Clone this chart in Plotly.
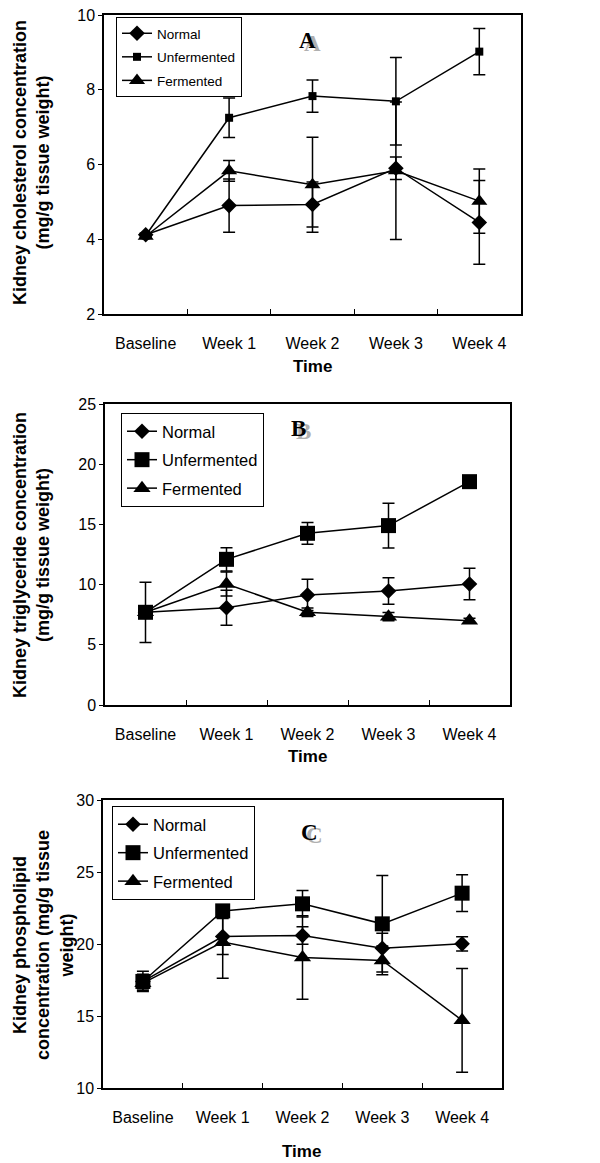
import plotly.graph_objects as go

# categories on the x axis
times = ["Baseline", "Week 1", "Week 2", "Week 3", "Week 4"]

# panel A - kidney cholesterol (mg/g tissue weight)
chol_normal = [4.12, 4.90, 4.93, 5.90, 4.45]
chol_normal_err = [0.05, 0.71, 0.60, 0.30, 1.12]
chol_unferm = [4.10, 7.25, 7.83, 7.69, 9.02]
chol_unferm_err = [0.05, 0.53, 0.43, 1.17, 0.62]
chol_ferm = [4.08, 5.83, 5.46, 5.83, 5.02]
chol_ferm_err = [0.05, 0.28, 1.27, 1.84, 0.86]

# panel B - kidney triglyceride
tg_normal = [7.70, 8.08, 9.14, 9.47, 10.05]
tg_normal_err = [2.50, 1.46, 1.30, 1.10, 1.30]
tg_unferm = [7.70, 12.10, 14.26, 14.90, 18.55]
tg_unferm_err = [0.50, 0.97, 0.90, 1.85, 0.30]
tg_ferm = [7.70, 10.05, 7.70, 7.34, 7.00]
tg_ferm_err = [0.50, 1.00, 0.35, 0.35, 0.20]

# panel C - kidney phospholipid
pl_normal = [17.40, 20.52, 20.59, 19.71, 20.01]
pl_normal_err = [0.70, 1.25, 0.60, 1.04, 0.50]
pl_unferm = [17.40, 22.30, 22.79, 21.40, 23.53]
pl_unferm_err = [0.50, 0.30, 0.92, 3.35, 1.28]
pl_ferm = [17.28, 20.13, 19.06, 18.86, 14.70]
pl_ferm_err = [0.50, 2.50, 2.90, 1.00, 3.60]

W, H = 600, 1163
OFF = 8  # the page body margin shifts the figure by this much
FONT = "Liberation Sans, Arial, sans-serif"


def px(x):
    return (x - OFF) / W


def py(y):
    return 1 - (y - OFF) / H


panels = [
    dict(n="", data=[(chol_normal, chol_normal_err), (chol_unferm, chol_unferm_err), (chol_ferm, chol_ferm_err)],
         dx=(104, 521), dy=(15, 314), yr=[2, 10], dt=2, sizes=(12, 8, 14), lfont=13.5, legpos=(116, 17),
         gap=3, letter="A", lpos=(307, 40), ytitle="Kidney cholesterol concentration<br>(mg/g tissue weight)",
         ytpos=(31, 163), tpos=(312, 367)),
    dict(n="2", data=[(tg_normal, tg_normal_err), (tg_unferm, tg_unferm_err), (tg_ferm, tg_ferm_err)],
         dx=(105, 510), dy=(404, 705), yr=[0, 25], dt=5, sizes=(12, 15, 15), lfont=16.5, legpos=(121, 413),
         gap=4, letter="B", lpos=(298, 428), ytitle="Kidney triglyceride concentration<br>(mg/g tissue weight)",
         ytpos=(31, 555), tpos=(307, 756)),
    dict(n="3", data=[(pl_normal, pl_normal_err), (pl_unferm, pl_unferm_err), (pl_ferm, pl_ferm_err)],
         dx=(103, 502), dy=(800, 1088), yr=[10, 30], dt=5, sizes=(12, 15, 15), lfont=16.5, legpos=(112, 806),
         gap=4, letter="C", lpos=(309, 832),
         ytitle="Kidney phospholipid<br>concentration (mg/g tissue<br>weight)",
         ytpos=(43, 945), tpos=(301, 1151)),
]

names = ["Normal", "Unfermented", "Fermented"]
symbols = ["diamond", "square", "triangle-up"]

fig = go.Figure()
annotations = []
layout = {}

for p in panels:
    n = p["n"]
    for i, (vals, errs) in enumerate(p["data"]):
        fig.add_trace(go.Scatter(
            x=times, y=vals, name=names[i], mode="lines+markers",
            xaxis="x" + n, yaxis="y" + n,
            legend="legend" + n, legendgroup=f"g{n}{i}",
            line=dict(color="black", width=1.5),
            marker=dict(symbol=symbols[i], size=p["sizes"][i], color="black"),
            error_y=dict(type="data", array=errs, visible=True, color="black", thickness=1.5, width=6),
        ))
    layout["xaxis" + n] = dict(
        domain=[px(p["dx"][0]), px(p["dx"][1])], anchor="y" + n,
        type="category", range=[-0.5, 4.5], tickson="boundaries", ticks="inside", ticklen=5,
        tickcolor="black", showline=True, linecolor="black", linewidth=1.5, mirror=True,
        showgrid=False, zeroline=False, tickfont=dict(family=FONT, size=16, color="black"),
        ticklabelstandoff=14,
    )
    layout["yaxis" + n] = dict(
        domain=[py(p["dy"][1]), py(p["dy"][0])], anchor="x" + n,
        range=p["yr"], dtick=p["dt"], ticks="outside", ticklen=4, tickcolor="black",
        showline=True, linecolor="black", linewidth=1.5, mirror=True,
        showgrid=False, zeroline=False, tickfont=dict(family=FONT, size=16, color="black"),
        ticklabeloverflow="allow",
    )
    layout["legend" + n] = dict(
        x=px(p["legpos"][0]), y=py(p["legpos"][1]), xanchor="left", yanchor="top",
        bgcolor="white", bordercolor="black", borderwidth=1,
        font=dict(family=FONT, size=p["lfont"], color="black"),
        tracegroupgap=p["gap"], itemwidth=30,
    )
    # panel letter with grey shadow
    lx, ly = p["lpos"]
    for dx, dy, col in [(5, 3, "#b0b0b0"), (0, 0, "black")]:
        annotations.append(dict(x=px(lx + dx), y=py(ly + dy), xref="paper", yref="paper",
                                text=f"<b>{p['letter']}</b>", showarrow=False,
                                xanchor="center", yanchor="middle",
                                font=dict(family="Liberation Serif", size=23, color=col)))
    # y title
    annotations.append(dict(x=px(p["ytpos"][0]), y=py(p["ytpos"][1]), xref="paper", yref="paper",
                            text=f"<b>{p['ytitle']}</b>", textangle=-90, showarrow=False,
                            xanchor="center", yanchor="middle",
                            font=dict(family=FONT, size=18, color="black")))
    # x title
    annotations.append(dict(x=px(p["tpos"][0]), y=py(p["tpos"][1]), xref="paper", yref="paper",
                            text="<b>Time</b>", showarrow=False, xanchor="center", yanchor="middle",
                            font=dict(family=FONT, size=17, color="black")))

fig.update_layout(
    width=W, height=H, margin=dict(l=0, r=0, t=0, b=0, autoexpand=False),
    paper_bgcolor="white", plot_bgcolor="white",
    annotations=annotations, **layout,
)

fig.write_html("out.html")
